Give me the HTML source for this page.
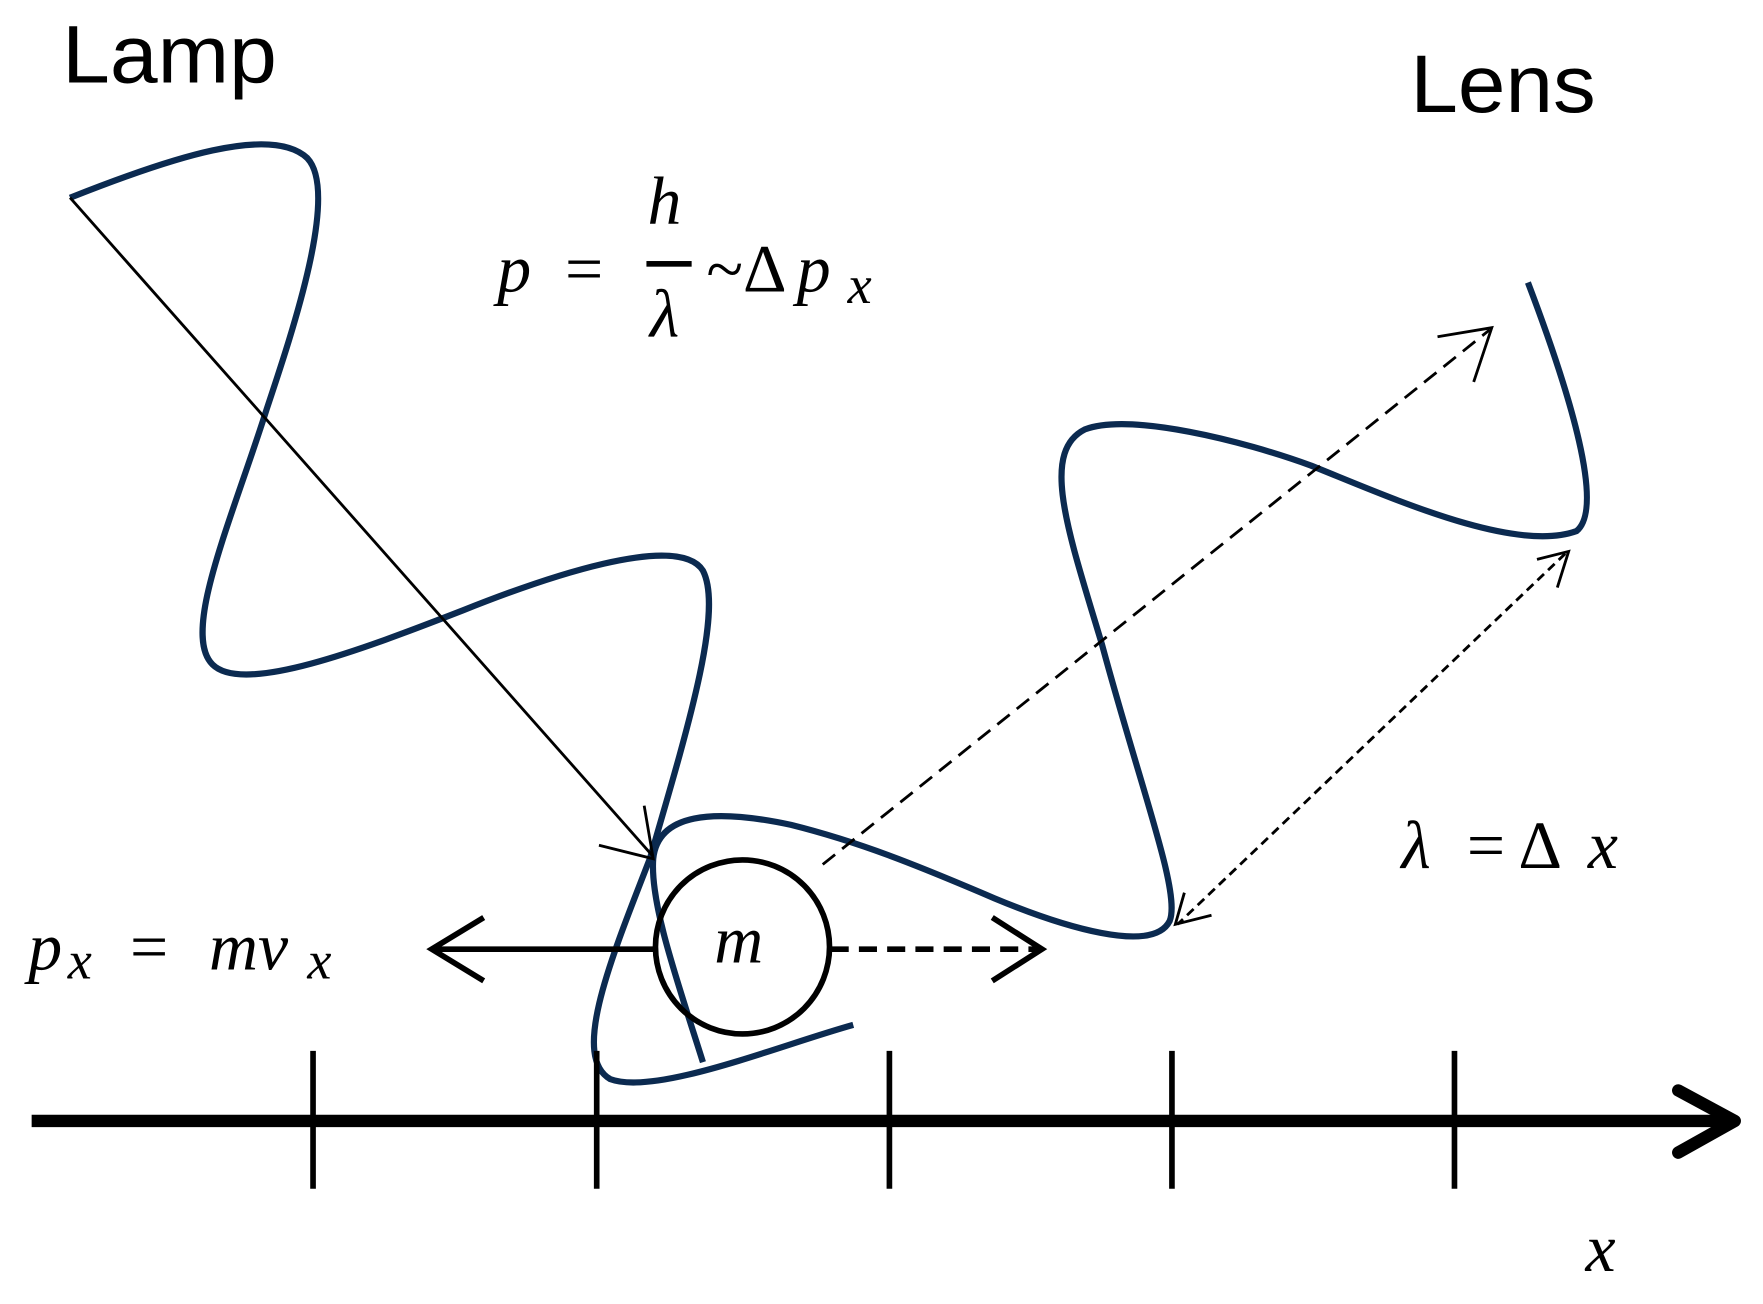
<!DOCTYPE html>
<html><head><style>
html,body{margin:0;padding:0;background:#fff;}
svg{display:block;}
</style></head><body>
<svg width="1763" height="1304" viewBox="0 0 1560 1154" preserveAspectRatio="none" xmlns="http://www.w3.org/2000/svg">
<g fill="none" stroke="#0b2a50" stroke-width="5.5" stroke-linecap="butt">
<path d="M62,175 C150,140 240,110 272,140 C300,170 260,290 236,362 C205,460 160,560 188,588 C215,615 320,575 410,540 C480,512 600,470 622,505 C640,540 610,640 575,760 C540,850 505,935 540,955 C580,970 690,925 755,907"/>
<path d="M622,940 C600,870 575,800 578,760 C582,720 630,715 700,730 C760,745 810,765 880,795 C940,820 1020,845 1035,815 C1045,790 1010,700 975,570 C945,470 920,400 960,380 C1000,365 1100,390 1160,412 C1230,440 1340,490 1395,470 C1420,450 1390,350 1352,250"/>
</g>
<g stroke="#000" fill="none">
<line x1="62" y1="175" x2="578" y2="758" stroke-width="2.5"/>
<polyline points="530,748 578,760 570,713" stroke-width="2.5"/>
<line x1="728" y1="765" x2="1318" y2="292" stroke-width="2.5" stroke-dasharray="14,8"/>
<polyline points="1272,298 1320,290 1304,338" stroke-width="2.5"/>
<line x1="1385" y1="490" x2="1042" y2="818" stroke-width="2.5" stroke-dasharray="8,5"/>
<polyline points="1360,495 1388,488 1378,520" stroke-width="2.5"/>
<polyline points="1072,810 1040,818 1048,790" stroke-width="2.5"/>
<circle cx="657" cy="838" r="77" stroke-width="5"/>
<line x1="580" y1="840" x2="382" y2="840" stroke-width="5"/>
<polyline points="428,812 382,840 428,868" stroke-width="5"/>
<line x1="735" y1="840" x2="922" y2="840" stroke-width="5" stroke-dasharray="16,9"/>
<polyline points="878,812 922,840 878,868" stroke-width="5"/>
<line x1="28" y1="992" x2="1535" y2="992" stroke-width="11"/>
<polyline points="1485,965 1535,992 1485,1020" stroke-width="11" stroke-linecap="round" stroke-linejoin="round"/>
<g stroke-width="5">
<line x1="277" y1="930" x2="277" y2="1052"/>
<line x1="528" y1="930" x2="528" y2="1052"/>
<line x1="787" y1="930" x2="787" y2="1052"/>
<line x1="1037" y1="930" x2="1037" y2="1052"/>
<line x1="1287" y1="930" x2="1287" y2="1052"/>
</g>
</g>
<g font-family="Liberation Sans, sans-serif" font-size="72" fill="#000">
<text x="55" y="73" textLength="190" lengthAdjust="spacingAndGlyphs">Lamp</text>
<text x="1248" y="99" textLength="164" lengthAdjust="spacingAndGlyphs">Lens</text>
</g>
<g font-family="Liberation Serif, serif" font-style="italic" font-size="60" fill="#000">
<text x="440" y="258">p</text>
<text x="500" y="258" font-style="normal">=</text>
<text x="573" y="198">h</text>
<rect x="572" y="231" width="40" height="5" fill="#000"/>
<text x="575" y="298">λ</text>
<text x="625" y="258" font-style="normal">~Δ</text>
<text x="705" y="258">p</text>
<text x="750" y="268" font-size="48">x</text>
<text x="1240" y="768">λ</text>
<text x="1298" y="768" font-style="normal">= Δ</text>
<text x="1405" y="768">x</text>
<text x="25" y="858">p</text>
<text x="60" y="866" font-size="48">x</text>
<text x="115" y="858" font-style="normal">=</text>
<text x="185" y="858">mv</text>
<text x="272" y="866" font-size="48">x</text>
<text x="632" y="852">m</text>
<text x="1403" y="1125">x</text>
</g>
</svg>
</body></html>
